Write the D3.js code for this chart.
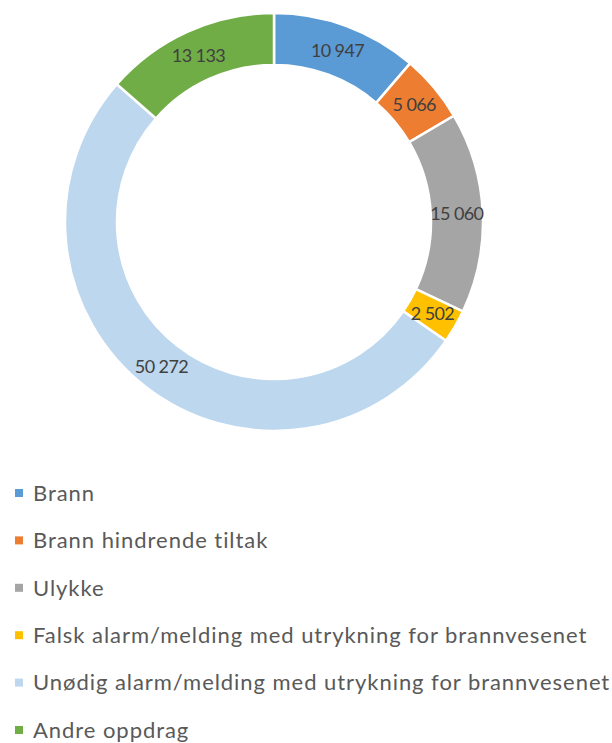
<!DOCTYPE html>
<html>
<head>
<meta charset="utf-8">
<script src="https://cdn.jsdelivr.net/npm/d3@7"></script>
<style>
  body { margin: 0; background: #fff; }
</style>
</head>
<body>
<div id="chart"></div>
<script>
const width = 612;
const height = 743;

// Data
const categories = [
    "Brann",
    "Brann hindrende tiltak",
    "Ulykke",
    "Falsk alarm/melding med utrykning for brannvesenet",
    "Unødig alarm/melding med utrykning for brannvesenet",
    "Andre oppdrag"
];
const values = [10947, 5066, 15060, 2502, 50272, 13133];
const colors = ["#5B9BD5", "#ED7D31", "#A5A5A5", "#FFC000", "#BDD7EE", "#70AD47"];

const cx = 274, cy = 222;
const outerR = 209, innerR = 157;

const svg = d3.select("#chart")
    .append("svg")
    .attr("width", width)
    .attr("height", height);

const pie = d3.pie().sort(null).value(d => d.value);
const arc = d3.arc().innerRadius(innerR).outerRadius(outerR);
const labelArc = d3.arc().innerRadius((innerR + outerR) / 2).outerRadius((innerR + outerR) / 2);

const data = categories.map((c, i) => ({ name: c, value: values[i], color: colors[i] }));
const fmt = v => d3.format(",")(v).replace(/,/g, " ");

const g = svg.append("g").attr("transform", `translate(${cx},${cy})`);

g.selectAll("path")
    .data(pie(data))
    .enter()
    .append("path")
    .attr("d", arc)
    .attr("fill", d => d.data.color)
    .attr("stroke", "#fff")
    .attr("stroke-width", 2.5);

g.selectAll("text")
    .data(pie(data))
    .enter()
    .append("text")
    .attr("transform", d => `translate(${labelArc.centroid(d)})`)
    .attr("text-anchor", "middle")
    .attr("dy", "0.35em")
    .style("font-family", "Lato, 'Open Sans', sans-serif")
    .style("font-size", "18px")
    .style("letter-spacing", "-0.6px")
    .style("fill", "#404040")
    .text(d => fmt(d.data.value));

// Legend
const legend = svg.append("g");
const rowY = d3.scalePoint().domain(categories).range([493, 730]);

const rows = legend.selectAll("g")
    .data(data)
    .enter()
    .append("g")
    .attr("transform", d => `translate(0,${rowY(d.name)})`);

rows.append("rect")
    .attr("x", 15)
    .attr("y", -4)
    .attr("width", 8)
    .attr("height", 8)
    .attr("fill", d => d.color);

rows.append("text")
    .attr("x", 33)
    .attr("dy", "0.35em")
    .style("font-family", "Lato, 'Open Sans', sans-serif")
    .style("font-size", "22px")
    .style("letter-spacing", "0.95px")
    .style("fill", "#595959")
    .text(d => d.name);
</script>
</body>
</html>
